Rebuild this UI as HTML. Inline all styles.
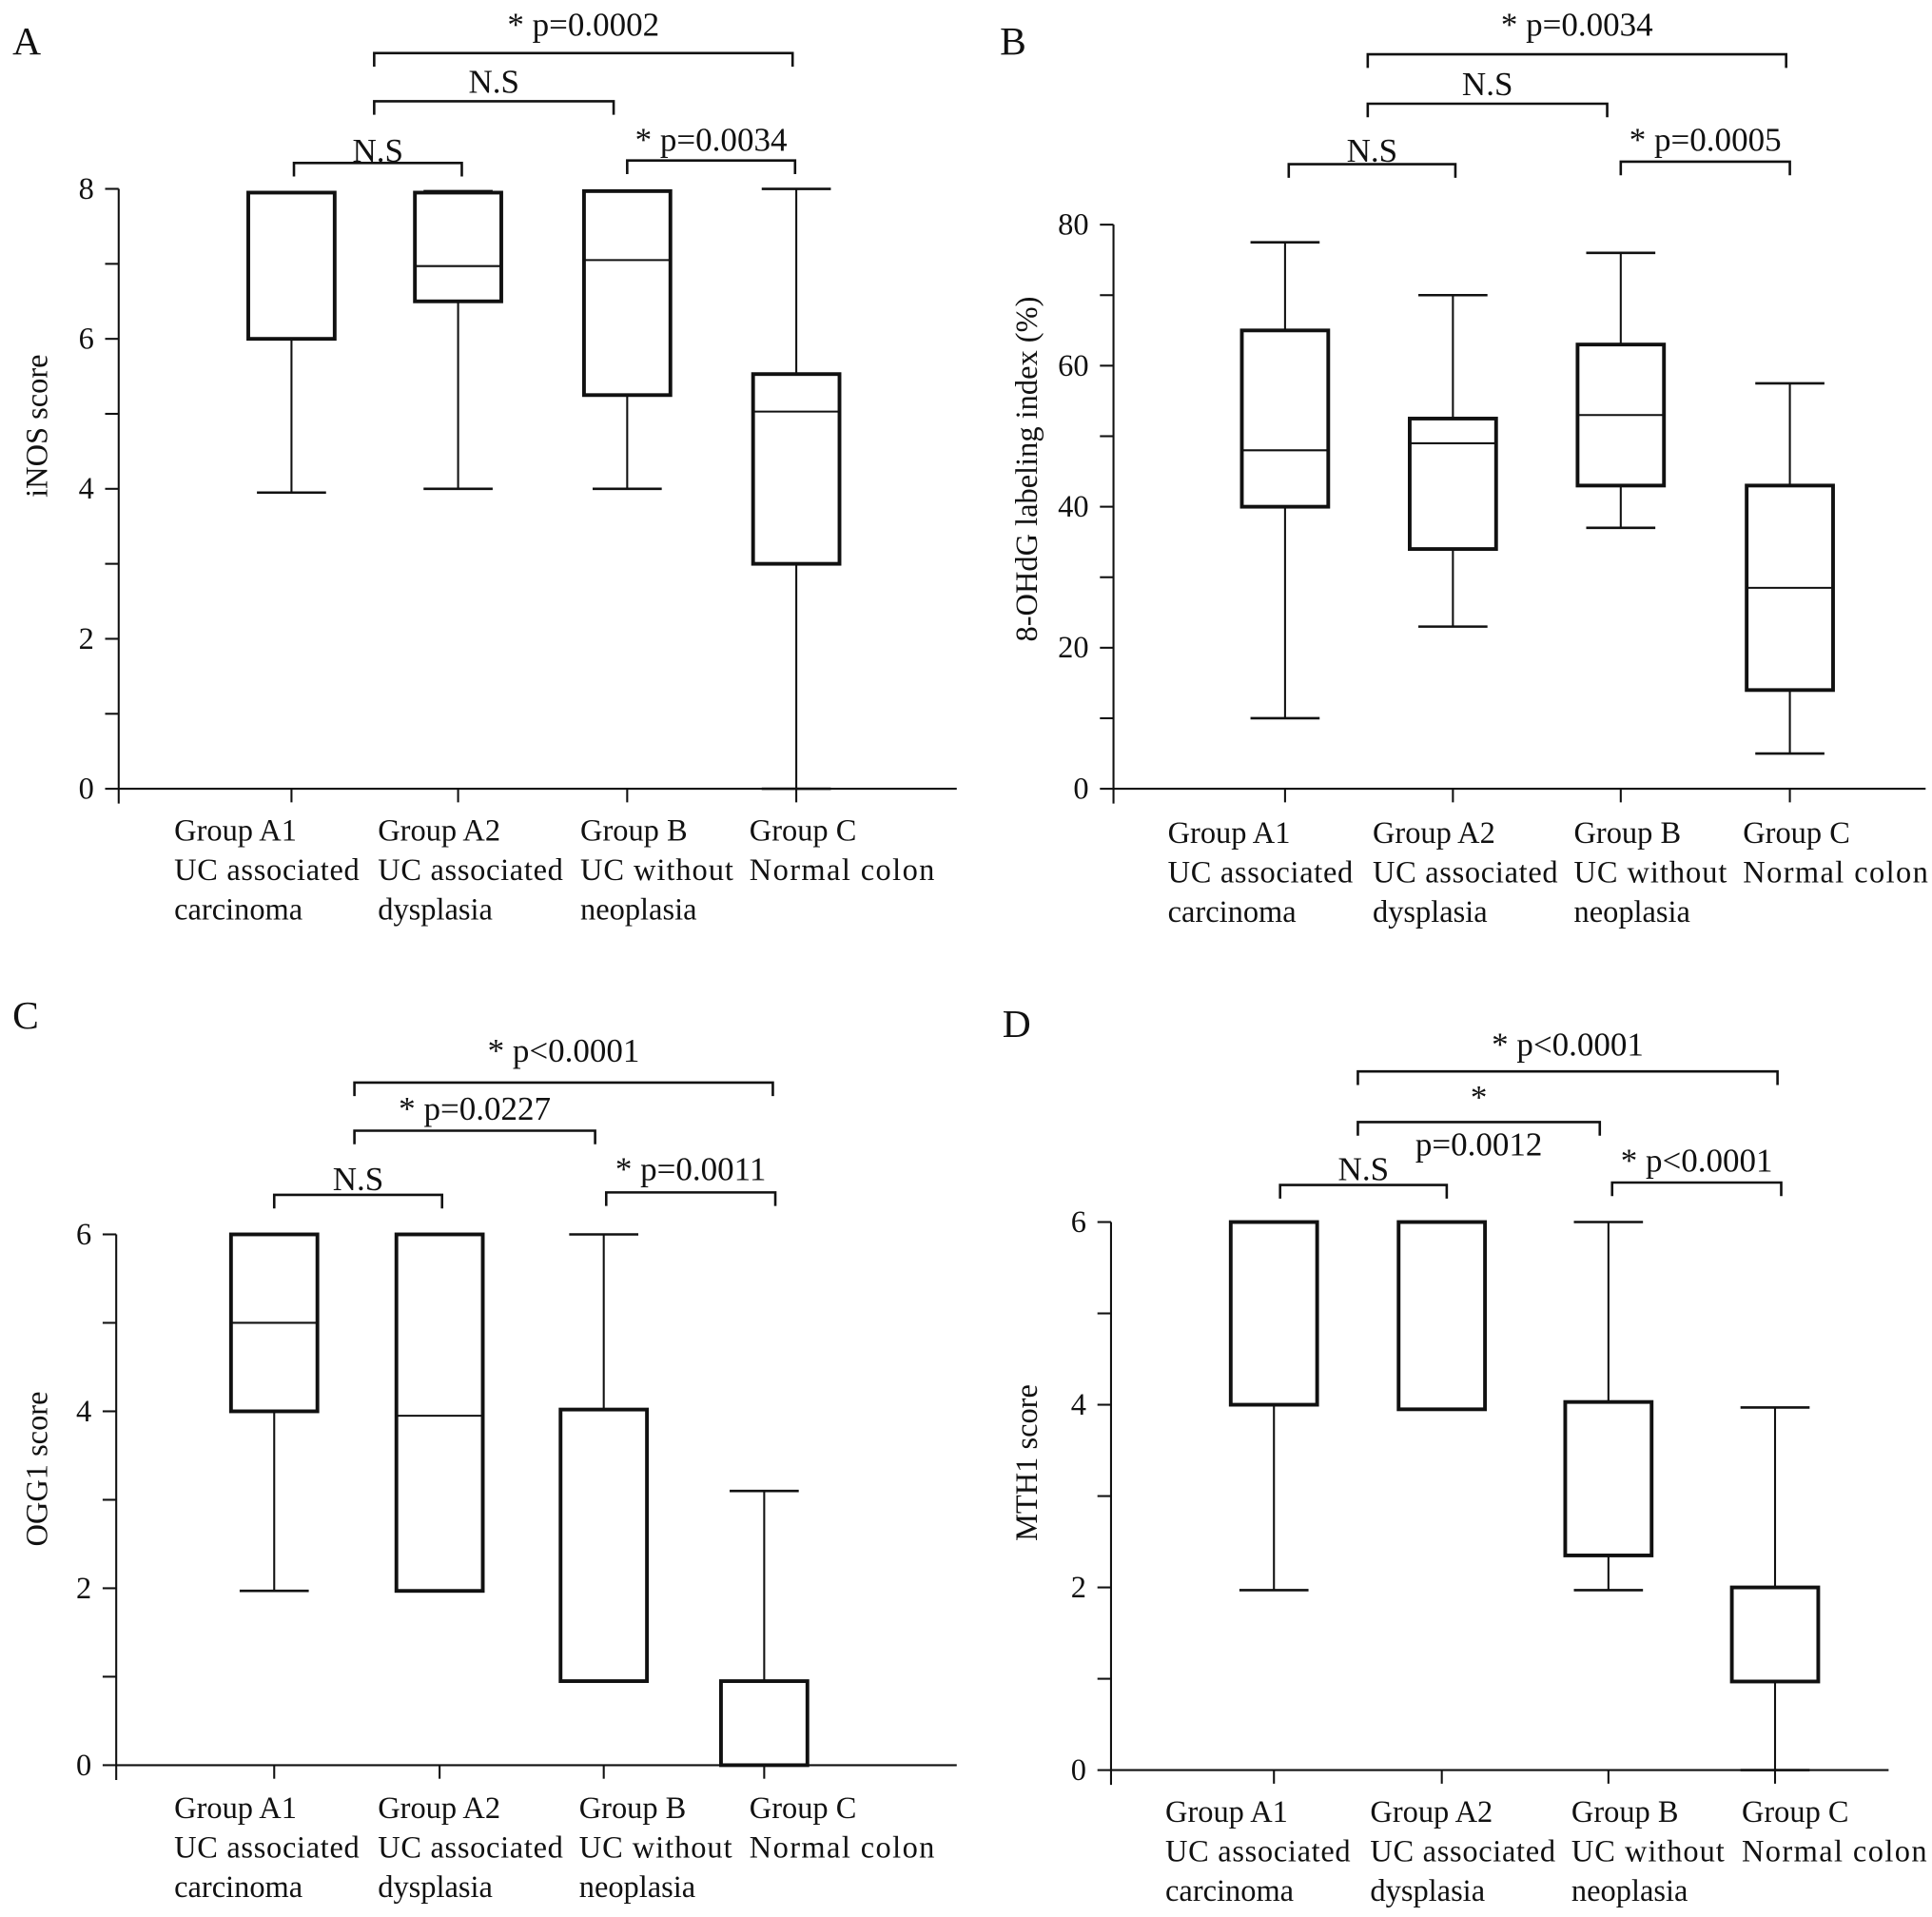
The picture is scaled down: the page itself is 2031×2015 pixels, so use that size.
<!DOCTYPE html>
<html><head><meta charset="utf-8"><style>
html,body{margin:0;padding:0;background:#fff}
svg{display:block}
text{font-family:"Liberation Serif",serif;fill:#111}
</style></head><body>
<svg id="fig" width="2031" height="2015" viewBox="0 0 1565 1553" xmlns="http://www.w3.org/2000/svg"></svg>
<script>
// ---- data ----
const groupNames = ["Group A1","Group A2","Group B","Group C"];
const groupSub1 = ["UC associated","UC associated","UC without","Normal colon"];
const groupSub2 = ["carcinoma","dysplasia"," neoplasia",""];

const aMin=[3.95,4,4,0], aQ1=[6,6.5,5.25,3], aMed=[null,6.97,7.05,5.03], aQ3=[7.95,7.95,7.97,5.53], aMax=[7.95,7.97,7.97,8];
const aTicks=[0,2,4,6,8];
const bMin=[10,23,37,5], bQ1=[40,34,43,14], bMed=[48,49,53,28.5], bQ3=[65,52.5,63,43], bMax=[77.5,70,76,57.5];
const bTicks=[0,20,40,60,80];
const cMin=[1.97,1.97,0.95,0], cQ1=[4,1.97,0.95,0], cMed=[5,3.95,null,null], cQ3=[6,6,4.02,0.95], cMax=[6,6,6,3.1];
const cTicks=[0,2,4,6];
const dMin=[1.97,3.95,1.97,0], dQ1=[4,3.95,2.35,0.97], dMed=[null,null,null,null], dQ3=[6,6,4.03,2], dMax=[6,6,6,3.97];
const dTicks=[0,2,4,6];

const panels=[
 {id:"a",letter:"A",lx:10,ly:44,title:"iNOS score",tx:38,ty:345,ax:96,y0:639,yTop:153,vmax:8,minor:1,xEnd:775,
  cx:[236,371,508,645],labx:[141,306,470,607],laby:673,ticks:aTicks,mn:aMin,q1:aQ1,md:aMed,q3:aQ3,mx:aMax,
  br:[{a:238,b:374,y:132,t:"N.S",ty:122},{a:303,b:497,y:82,t:"N.S",ty:66},{a:303,b:642,y:43,t:"* p=0.0002",ty:20},{a:508,b:644,y:130,t:"* p=0.0034",ty:113}]},
 {id:"b",letter:"B",lx:810,ly:44,title:"8-OHdG labeling index (%)",tx:840,ty:380,ax:902,y0:639,yTop:182,vmax:80,minor:10,xEnd:1560,
  cx:[1041,1177,1313,1450],labx:[946,1112,1275,1412],laby:675,ticks:bTicks,mn:bMin,q1:bQ1,md:bMed,q3:bQ3,mx:bMax,
  br:[{a:1044,b:1179,y:133,t:"N.S",ty:122},{a:1108,b:1302,y:84,t:"N.S",ty:68},{a:1108,b:1447,y:44,t:"* p=0.0034",ty:20},{a:1313,b:1450,y:131,t:"* p=0.0005",ty:113}]},
 {id:"c",letter:"C",lx:10,ly:833,title:"OGG1 score",tx:38,ty:1190,ax:94,y0:1430,yTop:1000,vmax:6,minor:1,xEnd:775,
  cx:[222,356,489,619],labx:[141,306,469,607],laby:1465,ticks:cTicks,mn:cMin,q1:cQ1,md:cMed,q3:cQ3,mx:cMax,
  br:[{a:222,b:358,y:968,t:"N.S",ty:955},{a:287,b:482,y:916,t:"* p=0.0227",ty:898},{a:287,b:626,y:877,t:"* p<0.0001",ty:851},{a:491,b:628,y:966,t:"* p=0.0011",ty:947}]},
 {id:"d",letter:"D",lx:812,ly:840,title:"MTH1 score",tx:840,ty:1185,ax:900,y0:1434,yTop:990,vmax:6,minor:1,xEnd:1530,
  cx:[1032,1168,1303,1438],labx:[944,1110,1273,1411],laby:1468,ticks:dTicks,mn:dMin,q1:dQ1,md:dMed,q3:dQ3,mx:dMax,
  br:[{a:1037,b:1172,y:960,t:"N.S",ty:947},{a:1100,b:1296,y:909,t:"*",ty:889,t2:"p=0.0012",ty2:927},{a:1100,b:1440,y:868,t:"* p<0.0001",ty:846},{a:1306,b:1443,y:958,t:"* p<0.0001",ty:940}]}
];

const NS="http://www.w3.org/2000/svg";
const svg=document.getElementById("fig");
function mk(tag,attrs,parent){const e=document.createElementNS(NS,tag);for(const k in attrs)e.setAttribute(k,attrs[k]);(parent||svg).appendChild(e);return e;}
function line(g,x1,y1,x2,y2,w){return mk("line",{x1:x1,y1:y1,x2:x2,y2:y2,stroke:"#111","stroke-width":w},g);}
function txt(g,x,y,s,size,anchor){const t=mk("text",{x:x,y:y,"font-size":size,"text-anchor":anchor||"start"},g);t.textContent=s;return t;}

panels.forEach(p=>{
  const g=mk("g",{});
  
  
  const Y=v=>p.y0-(v/p.vmax)*(p.y0-p.yTop);
  const L=txt(g,p.lx,p.ly,p.letter,32);
  
  
  const ya=line(g,p.ax,p.yTop,p.ax,p.y0+12,1.6);
  
  
  for(let v=0;v<=p.vmax+1e-9;v+=p.minor){line(g,p.ax-11,Y(v),p.ax,Y(v),1.6);}
  p.ticks.forEach(v=>{
    const t=txt(g,p.ax-20,Y(v)+8,String(v),25,"end");
    
    
  });
  const yt=txt(g,0,0,p.title,25,"middle");
  yt.setAttribute("transform","translate("+p.tx+","+p.ty+") rotate(-90)");
  
  
  const xa=line(g,p.ax,p.y0,p.xEnd,p.y0,1.6);
  
  
  p.cx.forEach((c,i)=>{
    line(g,c,p.y0,c,p.y0+11,1.6);
    [groupNames[i],groupSub1[i],groupSub2[i]].forEach((s,k)=>{
      if(!s)return;
      const t=txt(g,p.labx[i],p.laby+k*32+8,s,25);
      if(k==1)t.setAttribute("textLength",s.length>11?150:s==="UC without"?124:146);
      
      
    });
    const bg=mk("g",{},g);
    
    
    const hw=35,cw=28;
    if(p.mx[i]>p.q3[i]){line(bg,c,Y(p.mx[i]),c,Y(p.q3[i]),1.6);line(bg,c-cw,Y(p.mx[i]),c+cw,Y(p.mx[i]),2);}
    if(p.mn[i]<p.q1[i]){line(bg,c,Y(p.q1[i]),c,Y(p.mn[i]),1.6);line(bg,c-cw,Y(p.mn[i]),c+cw,Y(p.mn[i]),2);}
    mk("rect",{x:c-hw,y:Y(p.q3[i]),width:2*hw,height:Y(p.q1[i])-Y(p.q3[i]),fill:"none",stroke:"#111","stroke-width":3},bg);
    if(p.md[i]!==null)line(bg,c-hw,Y(p.md[i]),c+hw,Y(p.md[i]),1.6);
  });
  p.br.forEach(b=>{
    const bg=mk("g",{},g);
    
    
    mk("path",{d:"M"+b.a+","+(b.y+11)+"V"+b.y+"H"+b.b+"V"+(b.y+11),fill:"none",stroke:"#111","stroke-width":2},bg);
    txt(bg,(b.a+b.b)/2,b.ty+9,b.t,27,"middle");
    if(b.t2)txt(bg,(b.a+b.b)/2,b.ty2+9,b.t2,27,"middle");
  });
});
</script>
</body></html>
